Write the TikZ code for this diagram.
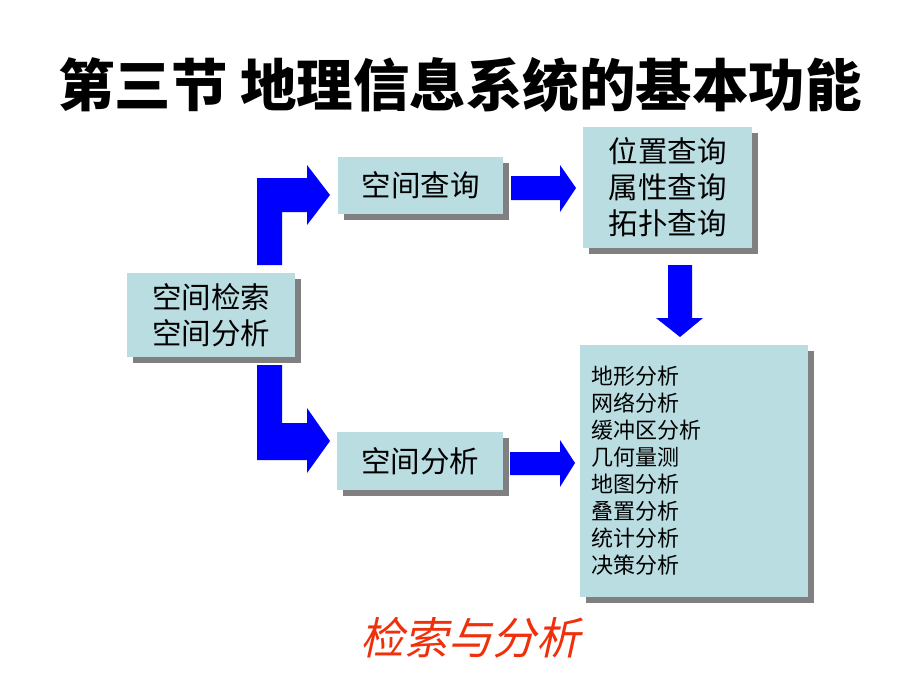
\documentclass[tikz,border=0pt]{standalone}
\usepackage{fontspec}
\setmainfont{Noto Sans CJK SC}
\newfontfamily\cjkit[FakeSlant=0.22]{Noto Sans CJK SC}
\usetikzlibrary{shadows}
\definecolor{boxfill}{RGB}{186,221,226}
\definecolor{shadowgray}{RGB}{128,128,128}
\definecolor{arrowblue}{RGB}{0,0,255}
\definecolor{capred}{RGB}{240,48,10}
\tikzset{
  gbox/.style={draw=none, fill=boxfill, rectangle, inner sep=0pt, align=center,
    font=\fontsize{29.5}{36}\selectfont,
    drop shadow={shadow xshift=6pt, shadow yshift=-6pt, fill=shadowgray, opacity=1}},
  barrow/.style={fill=arrowblue, draw=none}
}
\begin{document}
\begin{tikzpicture}[x=1pt,y=-1pt]
\useasboundingbox[fill=white] (0,0) rectangle (920,690);
\node (title) at (460,85) {\fontsize{56.5}{60}\selectfont\bfseries 第三节 地理信息系统的基本功能};
\node[gbox, minimum width=168pt, minimum height=84pt] (L) at (211,315) {空间检索\\空间分析};
\node[gbox, minimum width=165pt, minimum height=57pt] (Q) at (420.5,185) {空间查询};
\node[gbox, minimum width=166pt, minimum height=58pt] (A) at (420,461) {空间分析};
\node[gbox, minimum width=169pt, minimum height=121pt] (R1) at (667.5,187.5) {位置查询\\属性查询\\拓扑查询};
\node[gbox, minimum width=228pt, minimum height=252pt, text width=206pt, inner xsep=11pt, align=left,
  font=\fontsize{22}{27}\selectfont] (R2) at (694,471) {地形分析\\网络分析\\缓冲区分析\\几何量测\\地图分析\\叠置分析\\统计分析\\决策分析};
\node[text=capred, font=\fontsize{44}{50}\selectfont\cjkit] (cap) at (470,638) {检索与分析};
% elbow arrow up
\fill[barrow] (257,265) -- (257,178) -- (307,178) -- (307,165) -- (330,195) -- (307,225) -- (307,212) -- (282,212) -- (282,265) -- cycle;
% elbow arrow down
\fill[barrow] (257,365) -- (257,460) -- (307,460) -- (307,473) -- (330,441) -- (307,408) -- (307,423) -- (282,423) -- (282,365) -- cycle;
% top middle arrow
\fill[barrow] (511,176) -- (560,176) -- (560,165) -- (576,188) -- (560,212) -- (560,200) -- (511,200) -- cycle;
% bottom middle arrow
\fill[barrow] (510,452) -- (560,452) -- (560,440) -- (575,463) -- (560,487) -- (560,475) -- (510,475) -- cycle;
% down arrow
\fill[barrow] (668,265) -- (692,265) -- (692,318) -- (703,318) -- (680,337) -- (656,318) -- (668,318) -- cycle;
\end{tikzpicture}
\end{document}
